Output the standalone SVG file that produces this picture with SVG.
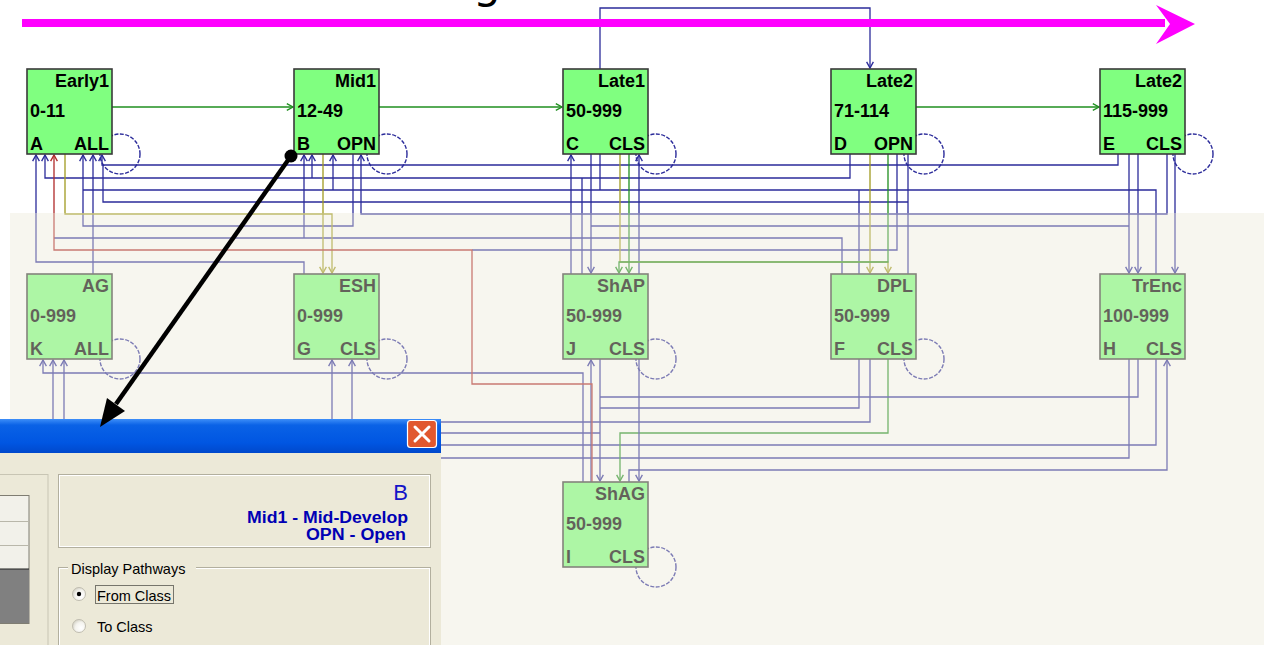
<svg xmlns="http://www.w3.org/2000/svg" width="1264" height="645" viewBox="0 0 1264 645">
<style>
.b{fill:none;stroke:#2b2b9a;stroke-width:1.3}
.g{fill:none;stroke:#1f8f1f;stroke-width:1.3}
.o{fill:none;stroke:#a09a20;stroke-width:1.3}
.r{fill:none;stroke:#b02a2a;stroke-width:1.3}
.loop{fill:none;stroke:#2b2b9a;stroke-width:1.4;stroke-dasharray:4 1.5}
.box{fill:#80ff80;stroke:#3a3a3a;stroke-width:1.6}
.t{font-family:"Liberation Sans",Arial,sans-serif;font-weight:bold;font-size:18px;fill:#000}
.tr{text-anchor:end}
.dlg{font-family:"Liberation Sans",Arial,sans-serif;font-size:14.5px;fill:#000}
.blu{font-family:"Liberation Sans",Arial,sans-serif;font-weight:bold;font-size:16px;fill:#0000b4;text-anchor:end}
</style>
<defs>
<marker id="aB" markerUnits="userSpaceOnUse" markerWidth="9" markerHeight="9" viewBox="0 0 8 8" refX="7" refY="4" orient="auto"><path d="M1.5,1 L7,4 L1.5,7" fill="none" stroke="#2b2b9a" stroke-width="1.2"/></marker>
<marker id="aG" markerUnits="userSpaceOnUse" markerWidth="9" markerHeight="9" viewBox="0 0 8 8" refX="7" refY="4" orient="auto"><path d="M1.5,1 L7,4 L1.5,7" fill="none" stroke="#1f8f1f" stroke-width="1.2"/></marker>
<marker id="aO" markerUnits="userSpaceOnUse" markerWidth="9" markerHeight="9" viewBox="0 0 8 8" refX="7" refY="4" orient="auto"><path d="M1.5,1 L7,4 L1.5,7" fill="none" stroke="#a09a20" stroke-width="1.2"/></marker>
<marker id="aR" markerUnits="userSpaceOnUse" markerWidth="9" markerHeight="9" viewBox="0 0 8 8" refX="7" refY="4" orient="auto"><path d="M1.5,1 L7,4 L1.5,7" fill="none" stroke="#b02a2a" stroke-width="1.2"/></marker>
<linearGradient id="title" x1="0" y1="0" x2="0" y2="1">
<stop offset="0" stop-color="#3d8ef8"/><stop offset="0.18" stop-color="#0a62e6"/><stop offset="0.7" stop-color="#0056e2"/><stop offset="1" stop-color="#0048cc"/>
</linearGradient>
<radialGradient id="radio" cx="0.65" cy="0.65" r="0.7">
<stop offset="0" stop-color="#ffffff"/><stop offset="0.6" stop-color="#f4f3ee"/><stop offset="1" stop-color="#d4d2c6"/>
</radialGradient>
</defs>
<rect x="0" y="0" width="1264" height="645" fill="#ffffff"/>

<g id="loops">
<circle class="loop" cx="120" cy="154" r="20"/>
<circle class="loop" cx="387" cy="154" r="20"/>
<circle class="loop" cx="656" cy="154" r="20"/>
<circle class="loop" cx="924" cy="154" r="20"/>
<circle class="loop" cx="1193" cy="154" r="20"/>
<circle class="loop" cx="120" cy="359" r="20"/>
<circle class="loop" cx="387" cy="359" r="20"/>
<circle class="loop" cx="656" cy="359" r="20"/>
<circle class="loop" cx="924" cy="359" r="20"/>
<circle class="loop" cx="656" cy="567" r="20"/>
</g>

<g id="connectors">
<path class="g" d="M112,107 H293" marker-end="url(#aG)"/>
<path class="g" d="M379,107 H562" marker-end="url(#aG)"/>
<path class="g" d="M916,107 H1099" marker-end="url(#aG)"/>
<path class="b" d="M600,69 V8 H870 V68" marker-end="url(#aB)"/>

<path class="b" d="M304,274 V262 H36 V155" marker-end="url(#aB)"/>
<path class="b" d="M850,154 V178 H45 V155" marker-end="url(#aB)"/>
<path class="b" d="M312,178 V155" marker-end="url(#aB)"/>
<path class="b" d="M582,274 V178"/>
<path class="b" d="M353,154 V226 H83 V155" marker-end="url(#aB)"/>
<path class="b" d="M93,274 V155" marker-end="url(#aB)"/>
<path class="b" d="M1118,154 V165 H102 V155" marker-end="url(#aB)"/>
<path class="b" d="M908,154 V274"/>
<path class="b" d="M908,202 H103 V165"/>
<path class="b" d="M842,274 V238 H54"/>
<path class="b" d="M304,238 V155" marker-end="url(#aB)"/>
<path class="b" d="M1156,274 V190 H83"/>
<path class="b" d="M333,190 V155" marker-end="url(#aB)"/>
<path class="b" d="M600,154 V190"/>
<path class="b" d="M1167,154 V214 H361 V155" marker-end="url(#aB)"/>
<path class="b" d="M571,274 V155" marker-end="url(#aB)"/>
<path class="b" d="M639,274 V155" marker-end="url(#aB)"/>
<path class="b" d="M591,154 V273" marker-end="url(#aB)"/>
<path class="b" d="M591,226 H1129"/>
<path class="b" d="M859,190 V274"/>
<path class="b" d="M897,154 V250 H472"/>
<path class="b" d="M1129,154 V273" marker-end="url(#aB)"/>
<path class="b" d="M1138,154 V273" marker-end="url(#aB)"/>
<path class="b" d="M1175,154 V273" marker-end="url(#aB)"/>

<path class="o" d="M65,154 V214 H332 V273" marker-end="url(#aO)"/>
<path class="o" d="M323,154 V273" marker-end="url(#aO)"/>
<path class="o" d="M620,154 V262 H888 V273" marker-end="url(#aO)"/>
<path class="o" d="M870,154 V273" marker-end="url(#aO)"/>
<path class="g" d="M629,154 V273" marker-end="url(#aG)"/>
<path class="g" d="M888,154 V262 H619 V273" marker-end="url(#aG)"/>

<path class="b" d="M583,482 V373 H43 V360" marker-end="url(#aB)"/>
<path class="b" d="M870,359 V422 H53 V360" marker-end="url(#aB)"/>
<path class="b" d="M1156,359 V445 H64 V360" marker-end="url(#aB)"/>
<path class="b" d="M1129,359 V458 H332 V360" marker-end="url(#aB)"/>
<path class="b" d="M352,433 V360" marker-end="url(#aB)"/>
<path class="b" d="M352,433 H600"/>
<path class="b" d="M600,359 V481" marker-end="url(#aB)"/>
<path class="g" d="M888,359 V433 H620 V481" marker-end="url(#aG)"/>
<path class="b" d="M629,482 V470 H1167 V360" marker-end="url(#aB)"/>
<path class="b" d="M639,359 V481" marker-end="url(#aB)"/>
<path class="b" d="M600,397 H1138 V359"/>
<path class="b" d="M600,408 H859 V359"/>
<path class="b" d="M591,482 V360" marker-end="url(#aB)"/>
<path class="r" d="M592,482 V384 H472 V250 H54 V155" marker-end="url(#aR)"/>
</g>

<g id="node-A"><rect class="box" x="27" y="69" width="85" height="85"/>
<text class="t tr" x="109" y="87">Early1</text><text class="t" x="30" y="117">0-11</text><text class="t" x="30" y="150">A</text><text class="t tr" x="109" y="150">ALL</text></g>
<g id="node-B"><rect class="box" x="294" y="69" width="85" height="85"/>
<text class="t tr" x="376" y="87">Mid1</text><text class="t" x="297" y="117">12-49</text><text class="t" x="297" y="150">B</text><text class="t tr" x="376" y="150">OPN</text></g>
<g id="node-C"><rect class="box" x="563" y="69" width="85" height="85"/>
<text class="t tr" x="645" y="87">Late1</text><text class="t" x="566" y="117">50-999</text><text class="t" x="566" y="150">C</text><text class="t tr" x="645" y="150">CLS</text></g>
<g id="node-D"><rect class="box" x="831" y="69" width="85" height="85"/>
<text class="t tr" x="913" y="87">Late2</text><text class="t" x="834" y="117">71-114</text><text class="t" x="834" y="150">D</text><text class="t tr" x="913" y="150">OPN</text></g>
<g id="node-E"><rect class="box" x="1100" y="69" width="85" height="85"/>
<text class="t tr" x="1182" y="87">Late2</text><text class="t" x="1103" y="117">115-999</text><text class="t" x="1103" y="150">E</text><text class="t tr" x="1182" y="150">CLS</text></g>

<g id="node-K"><rect class="box" x="27" y="274" width="85" height="85"/>
<text class="t tr" x="109" y="292">AG</text><text class="t" x="30" y="322">0-999</text><text class="t" x="30" y="355">K</text><text class="t tr" x="109" y="355">ALL</text></g>
<g id="node-G"><rect class="box" x="294" y="274" width="85" height="85"/>
<text class="t tr" x="376" y="292">ESH</text><text class="t" x="297" y="322">0-999</text><text class="t" x="297" y="355">G</text><text class="t tr" x="376" y="355">CLS</text></g>
<g id="node-J"><rect class="box" x="563" y="274" width="85" height="85"/>
<text class="t tr" x="645" y="292">ShAP</text><text class="t" x="566" y="322">50-999</text><text class="t" x="566" y="355">J</text><text class="t tr" x="645" y="355">CLS</text></g>
<g id="node-F"><rect class="box" x="831" y="274" width="85" height="85"/>
<text class="t tr" x="913" y="292">DPL</text><text class="t" x="834" y="322">50-999</text><text class="t" x="834" y="355">F</text><text class="t tr" x="913" y="355">CLS</text></g>
<g id="node-H"><rect class="box" x="1100" y="274" width="85" height="85"/>
<text class="t tr" x="1182" y="292">TrEnc</text><text class="t" x="1103" y="322">100-999</text><text class="t" x="1103" y="355">H</text><text class="t tr" x="1182" y="355">CLS</text></g>
<g id="node-I"><rect class="box" x="563" y="482" width="85" height="85"/>
<text class="t tr" x="645" y="500">ShAG</text><text class="t" x="566" y="530">50-999</text><text class="t" x="566" y="563">I</text><text class="t tr" x="645" y="563">CLS</text></g>

<rect id="overlay" x="10" y="213" width="1254" height="432" fill="#ece9d8" opacity="0.42"/>

<g id="dialog">
<rect x="0" y="419" width="441" height="34" fill="url(#title)"/>
<rect x="0" y="453" width="441" height="192" fill="#ece9d8"/>
<rect x="407.5" y="420.5" width="29" height="27" rx="3" fill="#e1582f" stroke="#ffffff" stroke-width="1.2"/>
<path d="M415,427 L429,441 M429,427 L415,441" stroke="#ffffff" stroke-width="3" stroke-linecap="round"/>
<rect x="-2" y="474.5" width="50" height="180" fill="none" stroke="#c8c5b4" stroke-width="1"/>
<rect x="-1" y="495.5" width="30" height="128" fill="#f2f1ea" stroke="#7f7d72" stroke-width="1"/>
<path d="M0,521.5 H29 M0,545.5 H29" stroke="#b9b7aa" stroke-width="1"/>
<rect x="0" y="569" width="29" height="54" fill="#808080"/>
<path d="M0,569 H29" stroke="#202020" stroke-width="1"/>
<rect x="58.5" y="474.5" width="372" height="73" fill="none" stroke="#b2af9e" stroke-width="1"/>
<rect x="59.5" y="475.5" width="370" height="71" fill="none" stroke="#ffffff" stroke-width="1"/>
<text x="408" y="500" font-family="Liberation Sans,Arial,sans-serif" font-size="22" fill="#1414c8" text-anchor="end">B</text>
<text class="blu" x="408" y="523" textLength="161" lengthAdjust="spacingAndGlyphs">Mid1 - Mid-Develop</text>
<text class="blu" x="406" y="540" textLength="100" lengthAdjust="spacingAndGlyphs">OPN - Open</text>
<rect x="58.5" y="567.5" width="372" height="100" fill="none" stroke="#b2af9e" stroke-width="1"/>
<rect x="59.5" y="568.5" width="370" height="100" fill="none" stroke="#ffffff" stroke-width="1"/>
<rect x="68" y="560" width="128" height="16" fill="#ece9d8"/>
<text class="dlg" x="71" y="574">Display Pathways</text>
<circle cx="79" cy="594" r="6.5" fill="url(#radio)" stroke="#c0bdb0" stroke-width="1"/>
<circle cx="79" cy="594" r="2.2" fill="#000000"/>
<rect x="95.5" y="585.5" width="78" height="18" fill="none" stroke="#000" stroke-width="1" stroke-dasharray="1 1"/>
<text class="dlg" x="97" y="601">From Class</text>
<circle cx="79" cy="626" r="6.5" fill="url(#radio)" stroke="#c0bdb0" stroke-width="1"/>
<text class="dlg" x="97" y="632">To Class</text>
</g>

<g id="pointer">
<circle cx="291" cy="156" r="6.5" fill="#000"/>
<path d="M291,156 L116,404" stroke="#000" stroke-width="4.5"/>
<polygon points="100,427 107,398 125,411" fill="#000"/>
</g>

<g id="timeline">
<path d="M22,23 H1165" stroke="#ff00ff" stroke-width="8"/>
<polygon points="1156,5 1195,24 1156,44 1170,24" fill="#ff00ff"/>
<text x="473" y="-2" font-family="DejaVu Sans,sans-serif" font-size="44" fill="#000">g</text>
</g>
</svg>
